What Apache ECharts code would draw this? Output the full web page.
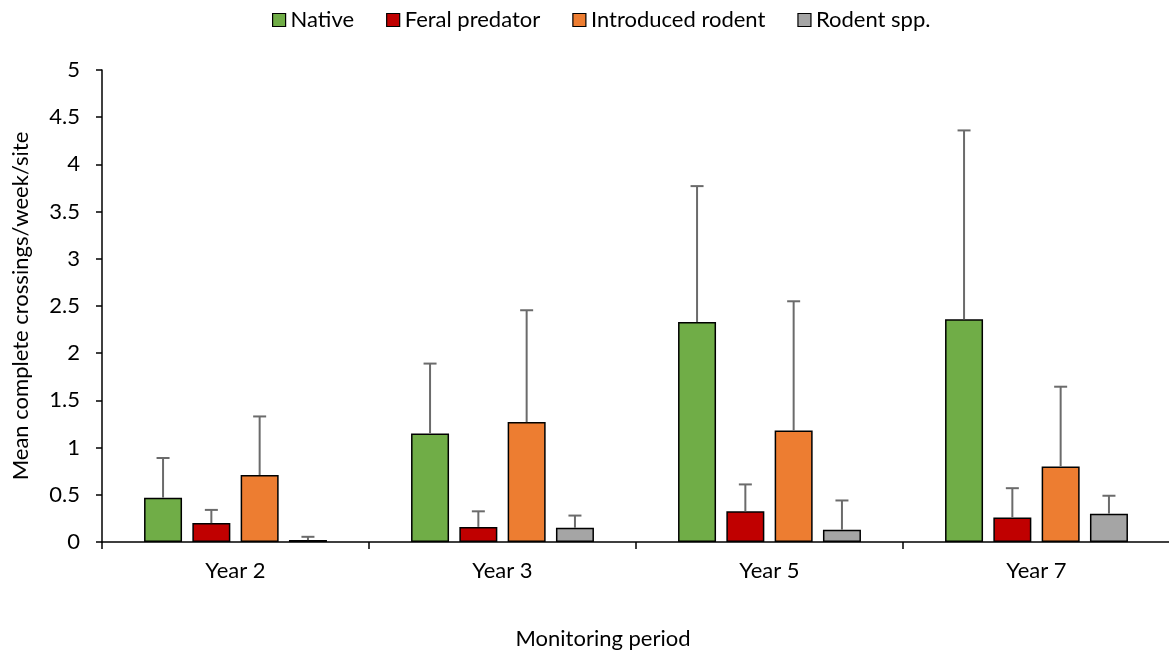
<!DOCTYPE html>
<html>
<head>
<meta charset="utf-8">
<script src="https://cdn.jsdelivr.net/npm/echarts@6/dist/echarts.min.js"></script>
<style>
  html, body { margin: 0; padding: 0; background: #fff; }
  #chart { width: 1169px; height: 653px; }
</style>
</head>
<body>
<div id="chart"></div>
<script>
// Monitoring periods
const categories = ['Year 2', 'Year 3', 'Year 5', 'Year 7'];

// Mean complete crossings per week per site
const native = [0.47, 1.15, 2.33, 2.36];
const feralPredator = [0.2, 0.16, 0.325, 0.26];
const introducedRodent = [0.71, 1.27, 1.18, 0.8];
const rodentSpp = [0.02, 0.15, 0.13, 0.3];

// Upper error (standard error) for each group
const nativeErr = [0.42, 0.74, 1.44, 2.0];
const feralPredatorErr = [0.14, 0.165, 0.285, 0.31];
const introducedRodentErr = [0.62, 1.185, 1.37, 0.845];
const rodentSppErr = [0.035, 0.13, 0.31, 0.19];

const FONT = 'Lato, "Liberation Sans", sans-serif';
const FS = 22;
const BAR_W = 38;
const BAR_GAP = 10.3;

const groups = [
  { name: 'Native', values: native, err: nativeErr, color: '#70AD47' },
  { name: 'Feral predator', values: feralPredator, err: feralPredatorErr, color: '#C00000' },
  { name: 'Introduced rodent', values: introducedRodent, err: introducedRodentErr, color: '#ED7D31' },
  { name: 'Rodent spp.', values: rodentSpp, err: rodentSppErr, color: '#A5A5A5' }
];

const barSeries = groups.map(g => ({
  name: g.name,
  type: 'bar',
  data: g.values,
  barWidth: BAR_W,
  barGap: (BAR_GAP / BAR_W * 100) + '%',
  itemStyle: { color: g.color, borderColor: '#000', borderWidth: 1.5 },
  z: 2
}));

// Upper error whiskers, placed over the matching bar in each group
const errorSeries = groups.map((g, si) => ({
  name: g.name + ' error',
  type: 'custom',
  z: 5,
  silent: true,
  data: g.values.map((v, i) => [i, v, v + g.err[i]]),
  renderItem: function (params, api) {
    const idx = api.value(0);
    const base = api.coord([idx, api.value(1)]);
    const top = api.coord([idx, api.value(2)]);
    const offset = (si - (groups.length - 1) / 2) * (BAR_W + BAR_GAP);
    const x = base[0] + offset;
    const half = 6.5;
    const style = { stroke: '#6b6b6b', lineWidth: 2 };
    return {
      type: 'group',
      children: [
        { type: 'line', shape: { x1: x, y1: base[1], x2: x, y2: top[1] }, style: style },
        { type: 'line', shape: { x1: x - half, y1: top[1], x2: x + half, y2: top[1] }, style: style }
      ]
    };
  }
}));

const chart = echarts.init(document.getElementById('chart'));
chart.setOption({
  animation: false,
  backgroundColor: '#fff',
  legend: {
    data: groups.map(g => g.name),
    top: 4,
    left: 267,
    itemWidth: 13,
    itemHeight: 13,
    itemGap: 32,
    icon: 'rect',
    itemStyle: { borderColor: '#000', borderWidth: 1.2 },
    textStyle: { fontFamily: FONT, fontSize: FS, color: '#000' }
  },
  grid: { left: 102, top: 70, width: 1068, height: 472, outerBoundsMode: 'none', containLabel: false },
  xAxis: {
    type: 'category',
    data: categories,
    name: 'Monitoring period',
    nameLocation: 'middle',
    nameGap: 86,
    nameTextStyle: { fontFamily: FONT, fontSize: FS, color: '#000', padding: [0, 66, 0, 0] },
    axisLine: { lineStyle: { color: '#000', width: 1.5 } },
    axisTick: { show: true, length: 7, lineStyle: { color: '#000', width: 1.5 } },
    axisLabel: { fontFamily: FONT, fontSize: FS, color: '#000', margin: 18 }
  },
  yAxis: {
    type: 'value',
    min: 0,
    max: 5,
    interval: 0.5,
    name: 'Mean complete crossings/week/site',
    nameLocation: 'middle',
    nameGap: 70,
    nameTextStyle: { fontFamily: FONT, fontSize: FS, color: '#000' },
    splitLine: { show: false },
    axisLine: { show: true, lineStyle: { color: '#000', width: 1.5 } },
    axisTick: { show: true, length: 6, lineStyle: { color: '#000', width: 1.5 } },
    axisLabel: { fontFamily: FONT, fontSize: FS, color: '#000', margin: 22 }
  },
  series: barSeries.concat(errorSeries)
});
</script>
</body>
</html>
